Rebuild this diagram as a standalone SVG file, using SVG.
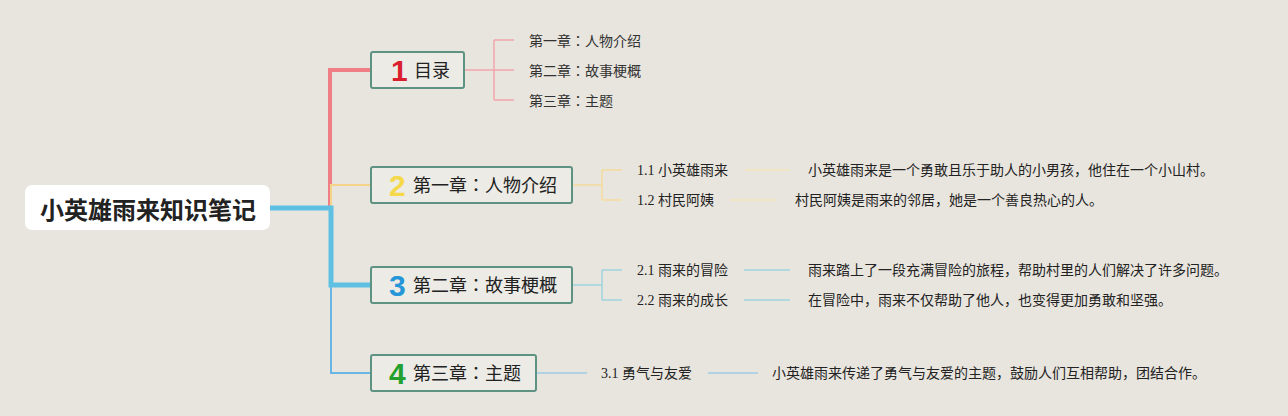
<svg xmlns="http://www.w3.org/2000/svg" width="1288" height="416" viewBox="0 0 1288 416">
<style>
.bg{fill:#e8e5de}
.node{fill:#ecebe5;stroke:#5e9282;stroke-width:2}
.t{font-family:"Noto Sans CJK JP","Noto Sans CJK SC","Noto Sans",sans-serif;fill:#222}
.ch{font-size:18px}
.num{font-family:"Liberation Sans","Noto Sans",sans-serif;font-weight:bold;font-size:30px}
.sub{font-family:"Noto Sans CJK JP","Noto Sans CJK SC",sans-serif;font-size:14px;fill:#333}
.lab{font-family:"Liberation Serif","Noto Sans CJK SC",serif;font-size:14px;fill:#222}
.desc{font-family:"Noto Sans CJK SC",sans-serif;font-size:14px;fill:#222}
.ln{fill:none}
</style>
<rect class="bg" x="0" y="0" width="1288" height="416"/>
<g id="connectors">
  <path class="ln" d="M330 208 V70 H371" stroke="#ef7f84" stroke-width="4"/>
  <path class="ln" d="M331 208 V185 H371" stroke="#f5d48a" stroke-width="2"/>
  <path class="ln" d="M331 208 V373 H371" stroke="#69b5e6" stroke-width="2"/>
  <path class="ln" d="M270 208 H331 V285 H371" stroke="#5ec0e2" stroke-width="5"/>
  <g stroke="#f2a7aa" stroke-width="1.5" fill="none">
    <path d="M464 70 H494 M494 40 V100 M494 40 H514 M494 70 H514 M494 100 H514"/>
  </g>
  <g stroke="#f3dc9c" stroke-width="1.5" fill="none">
    <path d="M572 185 H602 M602 170 V200 M602 170 H622 M602 200 H622"/>
    <path d="M745 170 H790 M730 200 H776" stroke="#f2e3b8"/>
  </g>
  <g stroke="#9fd3dd" stroke-width="1.5" fill="none">
    <path d="M572 285 H602 M602 270 V300 M602 270 H622 M602 300 H622"/>
    <path d="M744 270 H790 M744 300 H790"/>
  </g>
  <g stroke="#9ecbe6" stroke-width="1.5" fill="none">
    <path d="M536 373 H587 M708 373 H758"/>
  </g>
</g>
<g id="root">
  <rect x="25" y="185" width="245" height="45" rx="7" fill="#ffffff"/>
  <text class="t" x="148" y="219" font-size="24" font-weight="bold" text-anchor="middle" fill="#111">小英雄雨来知识笔记</text>
</g>
<g id="node1">
  <rect class="node" x="371" y="52" width="93" height="36" rx="2"/>
  <text class="num" x="391" y="81" fill="#d91f2e">1</text>
  <text class="t ch" x="414" y="77">目录</text>
</g>
<g id="node1-items">
  <text class="sub" x="529" y="46">第一章：人物介绍</text>
  <text class="sub" x="529" y="76">第二章：故事梗概</text>
  <text class="sub" x="529" y="106">第三章：主题</text>
</g>
<g id="node2">
  <rect class="node" x="371" y="167" width="201" height="36" rx="2"/>
  <text class="num" x="389" y="196" fill="#f5d94a">2</text>
  <text class="t ch" x="413" y="192">第一章：人物介绍</text>
</g>
<g id="node2-items">
  <text class="lab" x="637" y="175">1.1 小英雄雨来</text>
  <text class="lab" x="637" y="205">1.2 村民阿姨</text>
  <text class="desc" x="808" y="175">小英雄雨来是一个勇敢且乐于助人的小男孩，他住在一个小山村。</text>
  <text class="desc" x="795" y="205">村民阿姨是雨来的邻居，她是一个善良热心的人。</text>
</g>
<g id="node3">
  <rect class="node" x="371" y="267" width="201" height="36" rx="2"/>
  <text class="num" x="389" y="296" fill="#2597d8">3</text>
  <text class="t ch" x="413" y="292">第二章：故事梗概</text>
</g>
<g id="node3-items">
  <text class="lab" x="637" y="275">2.1 雨来的冒险</text>
  <text class="lab" x="637" y="305">2.2 雨来的成长</text>
  <text class="desc" x="808" y="275">雨来踏上了一段充满冒险的旅程，帮助村里的人们解决了许多问题。</text>
  <text class="desc" x="808" y="305">在冒险中，雨来不仅帮助了他人，也变得更加勇敢和坚强。</text>
</g>
<g id="node4">
  <rect class="node" x="371" y="355" width="165" height="36" rx="2"/>
  <text class="num" x="389" y="384" fill="#23a02d">4</text>
  <text class="t ch" x="413" y="380">第三章：主题</text>
</g>
<g id="node4-items">
  <text class="lab" x="601" y="378">3.1 勇气与友爱</text>
  <text class="desc" x="772" y="378">小英雄雨来传递了勇气与友爱的主题，鼓励人们互相帮助，团结合作。</text>
</g>
</svg>
